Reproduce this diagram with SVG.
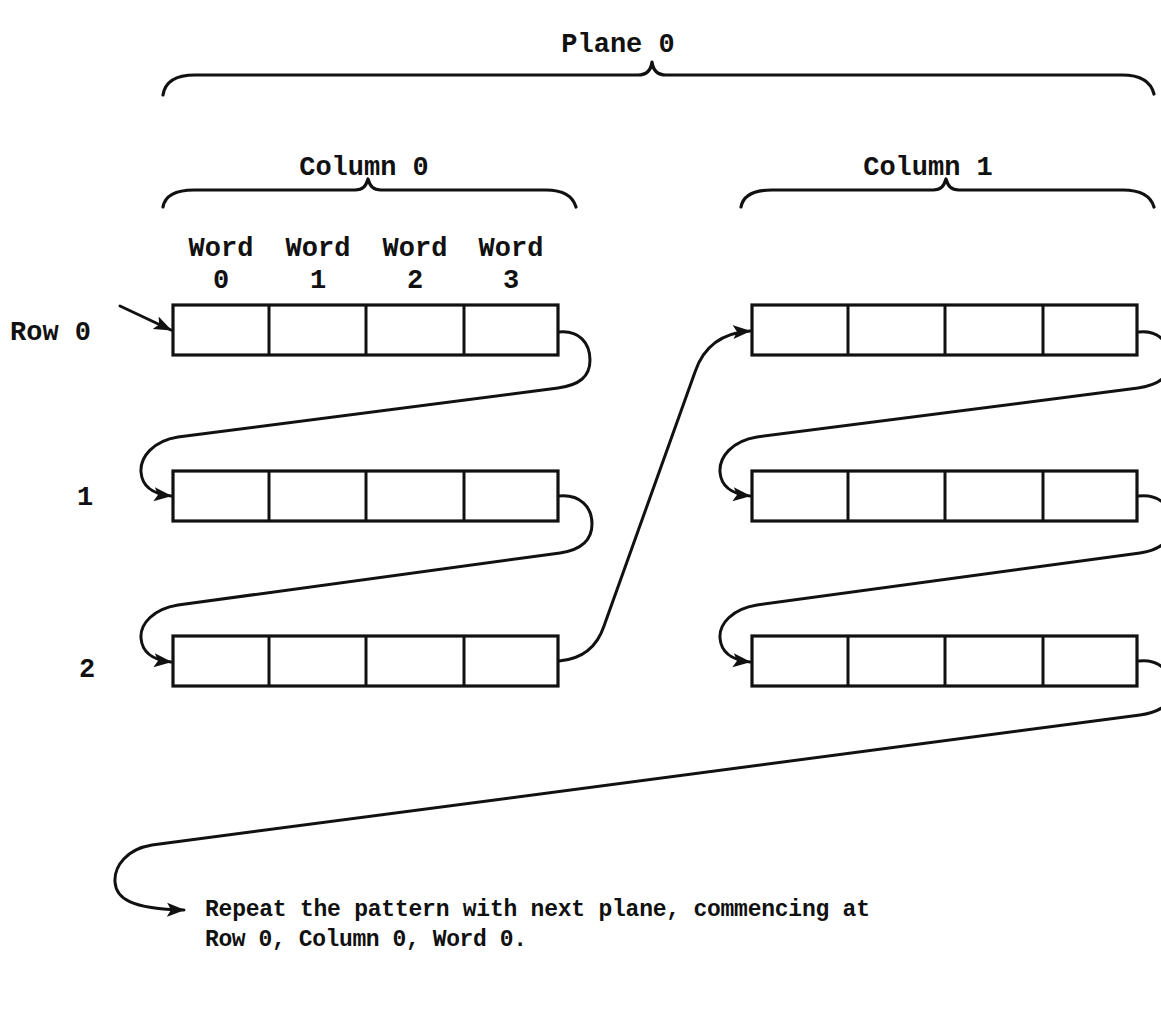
<svg xmlns="http://www.w3.org/2000/svg" width="1161" height="1014" viewBox="0 0 1161 1014">
  <style>
    .lbl { font-family: "Liberation Mono", "DejaVu Sans Mono", monospace; font-weight: bold; font-size: 27px; fill: #111; }
    .note { font-family: "Liberation Mono", "DejaVu Sans Mono", monospace; font-weight: bold; font-size: 23px; fill: #111; }
    .brace { fill: none; stroke: #111; stroke-width: 3.2; stroke-linecap: round; stroke-linejoin: round; }
    .box { fill: #fff; stroke: #111; stroke-width: 3.2; }
    .cell { stroke: #111; stroke-width: 3; }
    .link { fill: none; stroke: #111; stroke-width: 3; stroke-linecap: round; marker-end: url(#head); }
  </style>
  <defs>
    <marker id="head" markerUnits="userSpaceOnUse" markerWidth="20" markerHeight="16" refX="17" refY="8" orient="auto">
      <path d="M0,1 L18,8 L0,15 L4,8 Z" fill="#111"/>
    </marker>
    <!-- one row of four words -->
    <g id="row">
      <rect class="box" x="0" y="0" width="385" height="50"/>
      <line class="cell" x1="96" y1="0" x2="96" y2="50"/>
      <line class="cell" x1="193" y1="0" x2="193" y2="50"/>
      <line class="cell" x1="291" y1="0" x2="291" y2="50"/>
    </g>
  </defs>
  <rect width="1161" height="1014" fill="#fff"/>

  <!-- headings and braces -->
  <g id="plane0">
    <text class="lbl" x="618" y="52" text-anchor="middle">Plane 0</text>
    <path class="brace" d="M163,95 C165,82 175,75 195,75 L638,75 C647,75 651,70 652,62 C653,70 657,75 666,75 L1122,75 C1142,75 1151,82 1154,94"/>
  </g>
  <g id="column0">
    <text class="lbl" x="364" y="175" text-anchor="middle">Column 0</text>
    <path class="brace" d="M163,207 C165,196 174,190 194,190 L355,190 C363,190 366,186 368,179 C370,186 373,190 381,190 L546,190 C564,190 573,197 576,207"/>
  </g>
  <g id="column1">
    <text class="lbl" x="928" y="175" text-anchor="middle">Column 1</text>
    <path class="brace" d="M741,207 C743,196 752,190 772,190 L933,190 C941,190 944,186 946,179 C948,186 951,190 959,190 L1123,190 C1142,190 1151,197 1154,207"/>
  </g>

  <!-- word labels -->
  <g id="word-labels">
    <text class="lbl" x="221" y="256" text-anchor="middle">Word</text>
    <text class="lbl" x="318" y="256" text-anchor="middle">Word</text>
    <text class="lbl" x="415" y="256" text-anchor="middle">Word</text>
    <text class="lbl" x="511" y="256" text-anchor="middle">Word</text>
    <text class="lbl" x="221" y="288" text-anchor="middle">0</text>
    <text class="lbl" x="318" y="288" text-anchor="middle">1</text>
    <text class="lbl" x="415" y="288" text-anchor="middle">2</text>
    <text class="lbl" x="511" y="288" text-anchor="middle">3</text>
  </g>

  <!-- row labels -->
  <g id="row-labels">
    <text class="lbl" x="10" y="340">Row 0</text>
    <text class="lbl" x="85" y="505" text-anchor="middle">1</text>
    <text class="lbl" x="87" y="677" text-anchor="middle">2</text>
  </g>

  <!-- rows: column 0 -->
  <g id="c0r0"><use href="#row" x="173" y="305"/></g>
  <g id="c0r1"><use href="#row" x="173" y="471"/></g>
  <g id="c0r2"><use href="#row" x="173" y="636"/></g>
  <!-- rows: column 1 -->
  <g id="c1r0"><use href="#row" x="752" y="305"/></g>
  <g id="c1r1"><use href="#row" x="752" y="471"/></g>
  <g id="c1r2"><use href="#row" x="752" y="636"/></g>

  <!-- traversal order -->
  <g id="connectors">
    <path class="link" d="M120,306 L171,330"/>
    <!-- column 0 -->
    <path class="link" d="M559,332 C579,330 590,343 590,360 C590,377 579,385 558,388 L178,437 C153,441 140,457 141,472 C142,486 152,494 171,496"/>
    <path class="link" d="M559,496 C580,494 592,507 592,524 C592,541 580,550 560,553 L178,605 C153,609 140,624 141,638 C142,652 152,660 171,662"/>
    <!-- column 0 bottom to column 1 top -->
    <path class="link" d="M559,661 C583,659 597,647 604,626 L695,372 C703,348 720,333 750,331"/>
    <!-- column 1 -->
    <path class="link" d="M1139,332 C1159,330 1170,343 1170,360 C1170,377 1159,385 1138,388 L757,437 C732,441 719,457 720,472 C721,486 731,494 750,496"/>
    <path class="link" d="M1139,496 C1160,494 1172,507 1172,524 C1172,541 1160,550 1140,553 L757,605 C732,609 719,624 720,638 C721,652 731,660 750,662"/>
    <!-- on to the next plane -->
    <path class="link" d="M1139,661 C1160,659 1172,672 1172,690 C1172,705 1160,712 1140,715 L152,845 C127,849 114,866 115,882 C116,898 130,909 184,910"/>
  </g>

  <g id="note">
    <text class="note" x="205" y="916" textLength="665" lengthAdjust="spacing">Repeat the pattern with next plane, commencing at</text>
    <text class="note" x="205" y="946" textLength="322" lengthAdjust="spacing">Row 0, Column 0, Word 0.</text>
  </g>
</svg>
